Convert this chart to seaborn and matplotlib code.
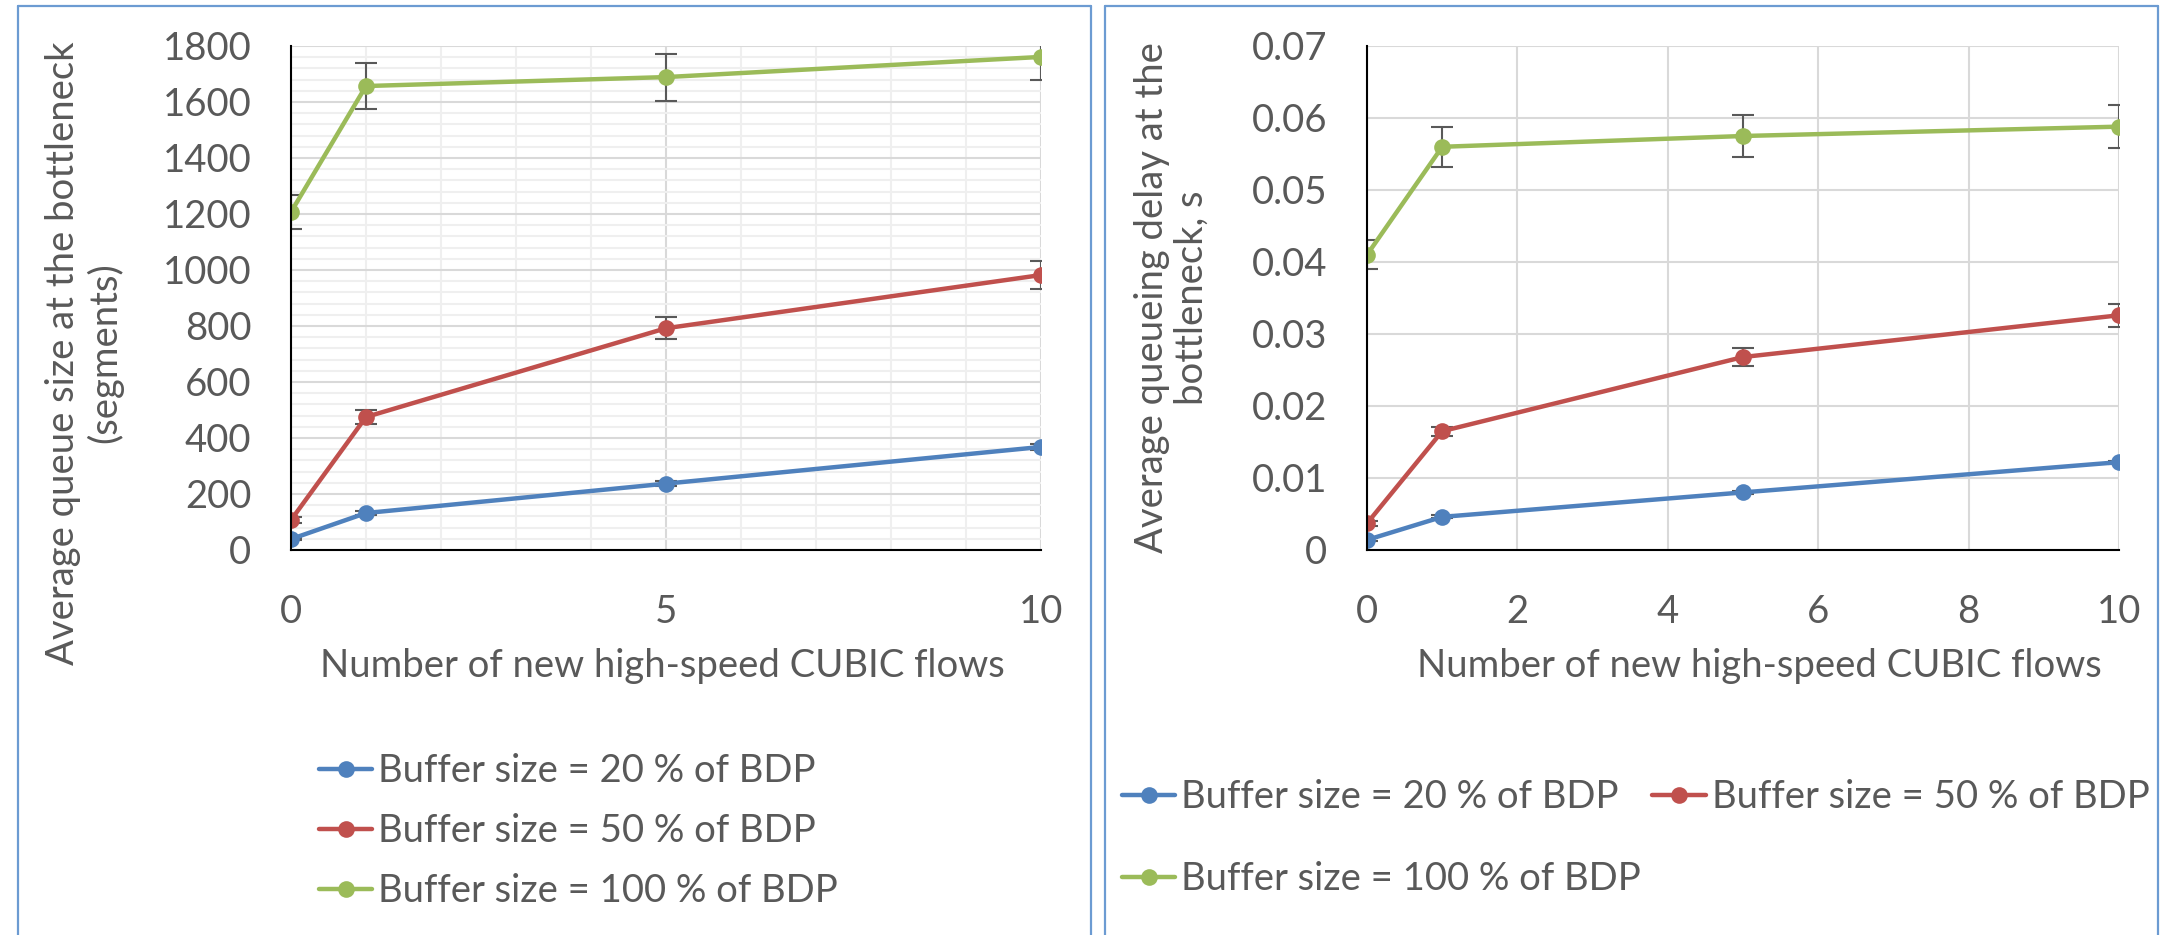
import matplotlib
matplotlib.use("Agg")
import matplotlib.pyplot as plt
from matplotlib.lines import Line2D
from matplotlib.ticker import MultipleLocator
import seaborn as sns
import pandas as pd

# ---------------- data ----------------
flows = [0, 1, 5, 10]
series_names = ["Buffer size = 20 % of BDP", "Buffer size = 50 % of BDP", "Buffer size = 100 % of BDP"]

queue_20 = [39, 132, 237, 368]
queue_50 = [107, 475, 792, 982]
queue_100 = [1207, 1657, 1689, 1761]
queue_err_20 = [5, 8, 10, 12]
queue_err_50 = [10, 25, 40, 50]
queue_err_100 = [60, 83, 84, 83]

delay_20 = [0.0014, 0.0046, 0.0080, 0.0122]
delay_50 = [0.0037, 0.0165, 0.0268, 0.0326]
delay_100 = [0.0410, 0.0560, 0.0575, 0.0588]
delay_err_20 = [0.0002, 0.0002, 0.0002, 0.0002]
delay_err_50 = [0.0003, 0.0006, 0.0013, 0.0016]
delay_err_100 = [0.0020, 0.0028, 0.0029, 0.0030]

left_xticks = [0, 5, 10]
right_xticks = [0, 2, 4, 6, 8, 10]
left_yticks = [0, 200, 400, 600, 800, 1000, 1200, 1400, 1600, 1800]
right_yticks = [0, 0.01, 0.02, 0.03, 0.04, 0.05, 0.06, 0.07]
right_ytick_labels = ["0", "0.01", "0.02", "0.03", "0.04", "0.05", "0.06", "0.07"]

xlabel = "Number of new high-speed CUBIC flows"
left_ylabel = "Average queue size at the bottleneck\n(segments)"
right_ylabel = "Average queueing delay at the\nbottleneck, s"

colors = ["#4F81BD", "#C0504D", "#9BBB59"]

# ---------------- style ----------------
sns.set_theme(style="white")
plt.rcParams["font.family"] = ["Lato", "DejaVu Sans"]
TXT = "#595959"
FS = 27.5

W, H = 2161, 935
fig = plt.figure(figsize=(W / 100, H / 100), dpi=100)
fig.patch.set_facecolor("white")


def px_rect(x0, y0, x1, y1):
    return [x0 / W, 1 - y1 / H, (x1 - x0) / W, (y1 - y0) / H]


axL = fig.add_axes(px_rect(291, 46, 1041, 550))
axR = fig.add_axes(px_rect(1367, 46, 2119, 550))


def make_df(vals_list, errs_list):
    rows = []
    for name, vals, errs in zip(series_names, vals_list, errs_list):
        for x, v, e in zip(flows, vals, errs):
            rows.append({"flows": x, "value": v, "err": e, "series": name})
    return pd.DataFrame(rows)


dfL = make_df([queue_20, queue_50, queue_100], [queue_err_20, queue_err_50, queue_err_100])
dfR = make_df([delay_20, delay_50, delay_100], [delay_err_20, delay_err_50, delay_err_100])

LW = 3.2
MS = 12

for ax, df in [(axL, dfL), (axR, dfR)]:
    sns.lineplot(data=df, x="flows", y="value", hue="series", hue_order=series_names,
                 palette=colors, marker="o", markersize=MS, markeredgewidth=0,
                 linewidth=LW, legend=False, ax=ax, zorder=3)
    for name in series_names:
        sub = df[df["series"] == name]
        ax.errorbar(sub["flows"], sub["value"], yerr=sub["err"], fmt="none",
                    ecolor="#595959", elinewidth=1.5, capsize=8, capthick=1.5, zorder=2)
    ax.set_facecolor("white")
    for s in ["top", "right"]:
        ax.spines[s].set_visible(False)
    for s in ["left", "bottom"]:
        ax.spines[s].set_color("black")
        ax.spines[s].set_linewidth(1.5)
        ax.spines[s].set_zorder(4)
    ax.set_xlim(0, 10)
    ax.set_xlabel("")
    ax.set_ylabel("")
    ax.tick_params(axis="both", which="major", direction="inout", length=19,
                   width=1.5, color="black", labelsize=FS, labelcolor=TXT)
    ax.tick_params(axis="x", which="major", pad=22)
    ax.tick_params(axis="y", which="major", pad=19)
    ax.set_axisbelow(True)

# left axis specifics
axL.set_ylim(0, 1800)
axL.set_yticks(left_yticks)
axL.set_xticks(left_xticks)
axL.set_xticklabels([str(v) for v in left_xticks])
axL.xaxis.set_minor_locator(MultipleLocator(1))
axL.yaxis.set_minor_locator(MultipleLocator(40))
axL.tick_params(axis="x", which="minor", direction="inout", length=14, width=1.5, color="black")
axL.tick_params(axis="y", which="minor", length=0)
axL.grid(which="major", color="#d9d9d9", linewidth=1.5)
axL.grid(which="minor", color="#efefef", linewidth=1.5)

# right axis specifics
axR.set_ylim(0, 0.07)
axR.set_yticks(right_yticks)
axR.set_yticklabels(right_ytick_labels)
axR.set_xticks(right_xticks)
axR.set_xticklabels([str(v) for v in right_xticks])
axR.grid(which="major", color="#d9d9d9", linewidth=1.5)

# axis titles
fig.text(662 / W, 1 - 666 / H, xlabel, ha="center", va="center", fontsize=FS, color=TXT)
fig.text(1759 / W, 1 - 666 / H, xlabel, ha="center", va="center", fontsize=FS, color=TXT)
fig.text(84 / W, 1 - 353 / H, left_ylabel, ha="center", va="center", rotation=90,
         fontsize=FS, color=TXT, multialignment="center", linespacing=1.15)
fig.text(1172 / W, 1 - 298 / H, right_ylabel, ha="center", va="center", rotation=90,
         fontsize=FS, color=TXT, multialignment="center", linespacing=1.15)

# legends
handles = [Line2D([0], [0], color=c, linewidth=LW, marker="o", markersize=MS,
                  markeredgewidth=0) for c in colors]
fig.legend(handles, series_names, loc="center left",
           bbox_to_anchor=(319 / W, 1 - 831 / H), frameon=False, fontsize=FS,
           labelcolor=TXT, handlelength=1.4, handletextpad=0.15,
           labelspacing=0.63, borderpad=0, borderaxespad=0)
# two-column legend filled row by row: (20 %, 50 %) then (100 %)
order = [0, 2, 1]
fig.legend([handles[i] for i in order], [series_names[i] for i in order],
           loc="center left", ncol=2,
           bbox_to_anchor=(1122 / W, 1 - 838 / H), frameon=False, fontsize=FS,
           labelcolor=TXT, handlelength=1.4, handletextpad=0.15,
           labelspacing=1.2, columnspacing=0.3, borderpad=0, borderaxespad=0)

# panel borders
bc = "#6C9BD2"
for (x0, x1) in [(18, 1091), (1105, 2158)]:
    fig.add_artist(Line2D([x0 / W, x0 / W], [0, 1 - 6 / H], color=bc, linewidth=1.6))
    fig.add_artist(Line2D([x1 / W, x1 / W], [0, 1 - 6 / H], color=bc, linewidth=1.6))
    fig.add_artist(Line2D([x0 / W, x1 / W], [1 - 6 / H, 1 - 6 / H], color=bc, linewidth=1.6))

fig.savefig("out.png", dpi=100, facecolor="white")
